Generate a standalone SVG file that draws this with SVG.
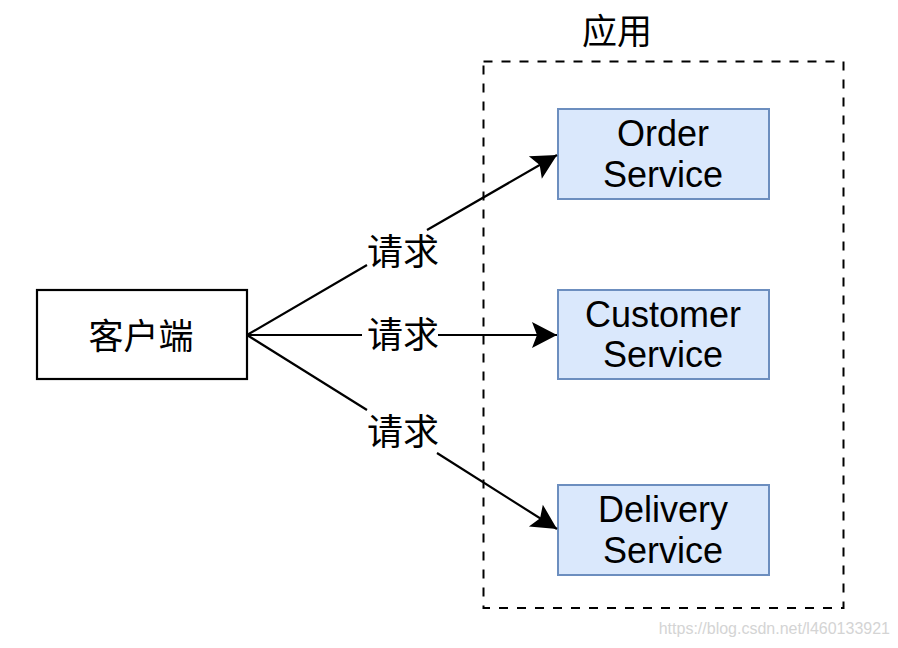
<svg xmlns="http://www.w3.org/2000/svg" width="898" height="648" viewBox="0 0 898 648">
<style>
.lat{font-family:"Liberation Sans",Arial,sans-serif;font-size:36px;fill:#000;text-anchor:middle}
.cjk{font-family:"Liberation Sans","Noto Sans CJK SC",sans-serif;font-size:35px;fill:#000;text-anchor:middle}
.lbl{font-size:36px}
.svc{fill:#dae8fc;stroke:#6c8ebf;stroke-width:2}
.edge{fill:none;stroke:#000;stroke-width:2.2}
</style>
<defs>
<marker id="arr" markerUnits="userSpaceOnUse" markerWidth="30" markerHeight="30" refX="0" refY="0" viewBox="-27 -15 30 30" orient="auto">
<path d="M0,0 L-25,-13 L-20,0 L-25,13 Z" fill="#000"/>
</marker>
</defs>
<rect width="898" height="648" fill="#fff"/>
<g id="app-group">
<rect x="483.5" y="61.5" width="360" height="546.5" fill="none" stroke="#000" stroke-width="2" stroke-dasharray="9 9"/>
<text class="cjk" x="617" y="44">应用</text>
</g>
<g id="client">
<rect x="37" y="290" width="210" height="89" fill="#fff" stroke="#000" stroke-width="2.2"/>
<text class="cjk" x="141" y="349">客户端</text>
</g>
<g id="order-service">
<rect class="svc" x="558" y="109" width="211" height="90"/>
<text class="lat" x="663" y="146">Order</text>
<text class="lat" x="663" y="187">Service</text>
</g>
<g id="customer-service">
<rect class="svc" x="558" y="290" width="211" height="89"/>
<text class="lat" x="663" y="327">Customer</text>
<text class="lat" x="663" y="367">Service</text>
</g>
<g id="delivery-service">
<rect class="svc" x="558" y="485" width="211" height="90"/>
<text class="lat" x="663" y="522">Delivery</text>
<text class="lat" x="663" y="563">Service</text>
</g>
<g id="connectors">
<path class="edge" d="M247,335 L367,265 M427,230 L557,155" marker-end="url(#arr)"/>
<path class="edge" d="M247,335 L362,335 M438,335 L557,335" marker-end="url(#arr)"/>
<path class="edge" d="M247,335 L367,410 M437,453 L557,529" marker-end="url(#arr)"/>
<text class="cjk lbl" x="403" y="265">请求</text>
<text class="cjk lbl" x="403" y="348">请求</text>
<text class="cjk lbl" x="403" y="445">请求</text>
</g>
<text x="890" y="634" font-family="Liberation Sans,Arial,sans-serif" font-size="16" fill="#d4d4d4" text-anchor="end">https://blog.csdn.net/l460133921</text>
</svg>
